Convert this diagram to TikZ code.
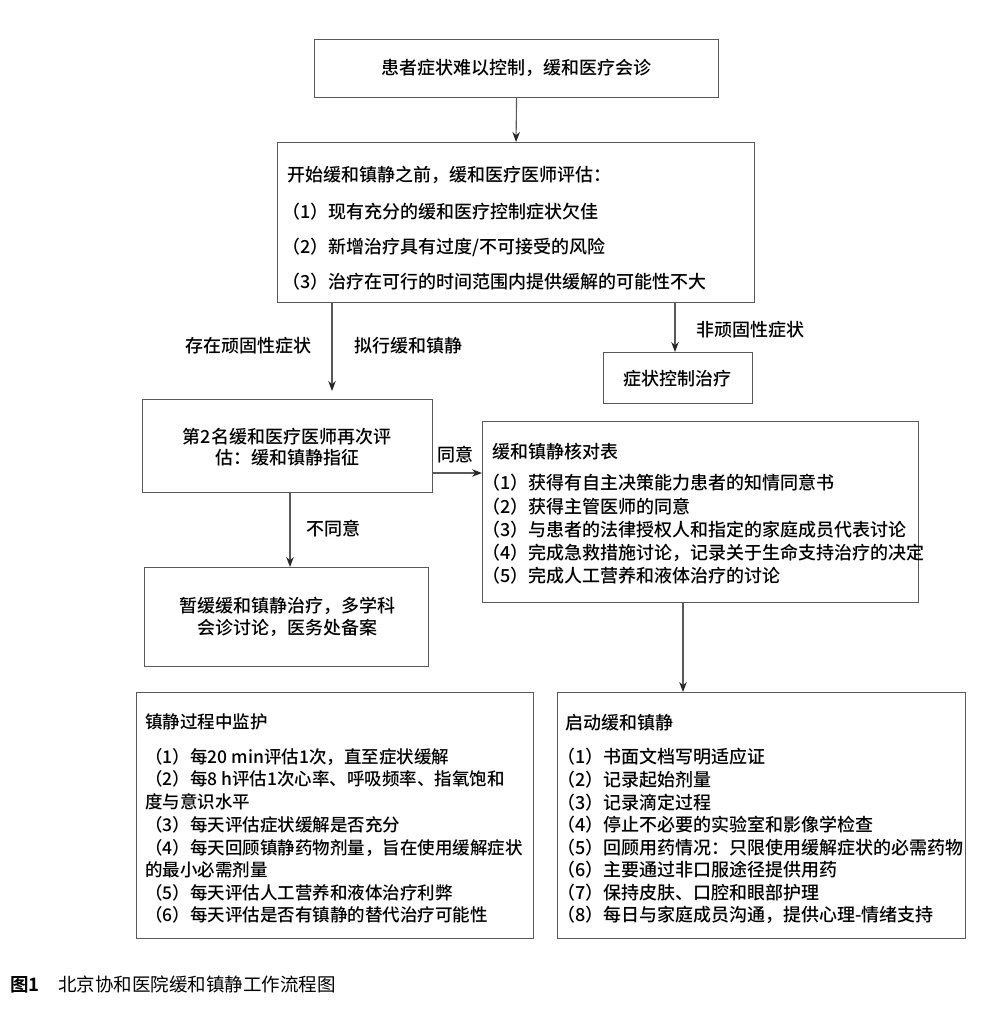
\documentclass[tikz,border=0pt]{standalone}
\usepackage{fontspec}
\setmainfont{Noto Sans CJK SC}[UprightFont=* Medium, BoldFont=* Bold]
\newfontfamily\capfont{Noto Sans CJK SC}
\usetikzlibrary{arrows.meta}
\begin{document}
\begin{tikzpicture}[x=1pt,y=-1pt,
  box/.style={draw=black!65, line width=1.1pt, inner sep=0pt, anchor=north west},
  txt/.style={inner sep=0pt, anchor=west, font=\fontsize{18}{18}\selectfont, text height=15.8pt, text depth=2.2pt},
  stxt/.style={txt, font=\fontsize{17.5}{17.5}\selectfont},
  ctxt/.style={txt, anchor=center},
  arr/.style={draw=black!65, line width=1.1pt, -{Stealth[length=10pt,width=7.5pt,color=black!85]}}
]
\fill[white] (0,0) rectangle (1000,1014);
\useasboundingbox (0,0) rectangle (1000,1014);

% boxes
\node[box, minimum width=404pt, minimum height=58pt] (b1) at (314,39) {};
\node[box, minimum width=477pt, minimum height=160pt] (b2) at (277,142) {};
\node[box, minimum width=290pt, minimum height=93pt] (b3) at (142,399) {};
\node[box, minimum width=436pt, minimum height=181pt] (b4) at (482,421) {};
\node[box, minimum width=284pt, minimum height=99pt] (b5) at (144,567) {};
\node[box, minimum width=149pt, minimum height=51pt] (b6) at (603,352) {};
\node[box, minimum width=397pt, minimum height=246pt] (b7) at (136,692) {};
\node[box, minimum width=408pt, minimum height=246pt] (b8) at (557,692) {};

% box 1
\node[ctxt] (t1) at (516,68) {患者症状难以控制，缓和医疗会诊};
% box 2
\node[txt] (t2a) at (287,175) {开始缓和镇静之前，缓和医疗医师评估：};
\node[txt] (t2b) at (282,212) {（1）现有充分的缓和医疗控制症状欠佳};
\node[txt] (t2c) at (282,247) {（2）新增治疗具有过度/不可接受的风险};
\node[txt] (t2d) at (282,282) {（3）治疗在可行的时间范围内提供缓解的可能性不大};
% box 3
\node[ctxt] (t3a) at (287,437) {第2名缓和医疗医师再次评};
\node[ctxt] (t3b) at (287,458) {估：缓和镇静指征};
% box 4
\node[txt] (t4a) at (492,452) {缓和镇静核对表};
\node[txt] (t4b) at (482,483) {（1）获得有自主决策能力患者的知情同意书};
\node[txt] (t4c) at (482,507) {（2）获得主管医师的同意};
\node[txt] (t4d) at (482,530) {（3）与患者的法律授权人和指定的家庭成员代表讨论};
\node[txt] (t4e) at (482,553) {（4）完成急救措施讨论，记录关于生命支持治疗的决定};
\node[txt] (t4f) at (482,576) {（5）完成人工营养和液体治疗的讨论};
% box 5
\node[ctxt] (t5a) at (287,606) {暂缓缓和镇静治疗，多学科};
\node[ctxt] (t5b) at (287,628) {会诊讨论，医务处备案};
% box 6
\node[ctxt] (t6) at (677,379) {症状控制治疗};
% box 7
\node[stxt] (t7a) at (145,722) {镇静过程中监护};
\node[stxt] (t7b) at (145,757) {（1）每20 min评估1次，直至症状缓解};
\node[stxt] (t7c) at (145,779) {（2）每8 h评估1次心率、呼吸频率、指氧饱和};
\node[stxt] (t7d) at (145,802) {度与意识水平};
\node[stxt] (t7e) at (145,825) {（3）每天评估症状缓解是否充分};
\node[stxt] (t7f) at (145,848) {（4）每天回顾镇静药物剂量，旨在使用缓解症状};
\node[stxt] (t7g) at (145,870) {的最小必需剂量};
\node[stxt] (t7h) at (145,893) {（5）每天评估人工营养和液体治疗利弊};
\node[stxt] (t7i) at (145,915) {（6）每天评估是否有镇静的替代治疗可能性};
% box 8
\node[txt] (t8a) at (565,723) {启动缓和镇静};
\node[txt] (t8b) at (557,757) {（1）书面文档写明适应证};
\node[txt] (t8c) at (557,780) {（2）记录起始剂量};
\node[txt] (t8d) at (557,803) {（3）记录滴定过程};
\node[txt] (t8e) at (557,825) {（4）停止不必要的实验室和影像学检查};
\node[txt] (t8f) at (557,848) {（5）回顾用药情况：只限使用缓解症状的必需药物};
\node[txt] (t8g) at (557,870) {（6）主要通过非口服途径提供用药};
\node[txt] (t8h) at (557,893) {（7）保持皮肤、口腔和眼部护理};
\node[txt] (t8i) at (557,915) {（8）每日与家庭成员沟通，提供心理-情绪支持};

% connector labels
\node[ctxt] (l1) at (248,346) {存在顽固性症状};
\node[ctxt] (l2) at (408,346) {拟行缓和镇静};
\node[ctxt] (l3) at (750,330) {非顽固性症状};
\node[ctxt] (l4) at (455,455) {同意};
\node[ctxt] (l5) at (333,529) {不同意};

% helper coordinates
\coordinate (xa) at (332,0);
\coordinate (xb) at (675,0);
\coordinate (ya) at (0,473);
\coordinate (xc) at (290,0);
\coordinate (xd) at (683,0);

% connectors
\draw[arr] (b1.south) -- (b2.north);
\draw[arr, shorten >=8pt] (b2.south -| xa) -- (b3.north -| xa);
\draw[arr] (b2.south -| xb) -- (b6.north -| xb);
\draw[arr] (b3.east |- ya) -- (b4.west |- ya);
\draw[arr] (b3.south -| xc) -- (b5.north -| xc);
\draw[arr] (b4.south -| xd) -- (b8.north -| xd);

% caption
\node[txt, font=\fontsize{18.5}{18.5}\selectfont\bfseries] (c1) at (10,985) {图1};
\node[txt, font=\fontsize{18.5}{18.5}\selectfont\capfont] (c2) at (58,985) {北京协和医院缓和镇静工作流程图};
\end{tikzpicture}
\end{document}
